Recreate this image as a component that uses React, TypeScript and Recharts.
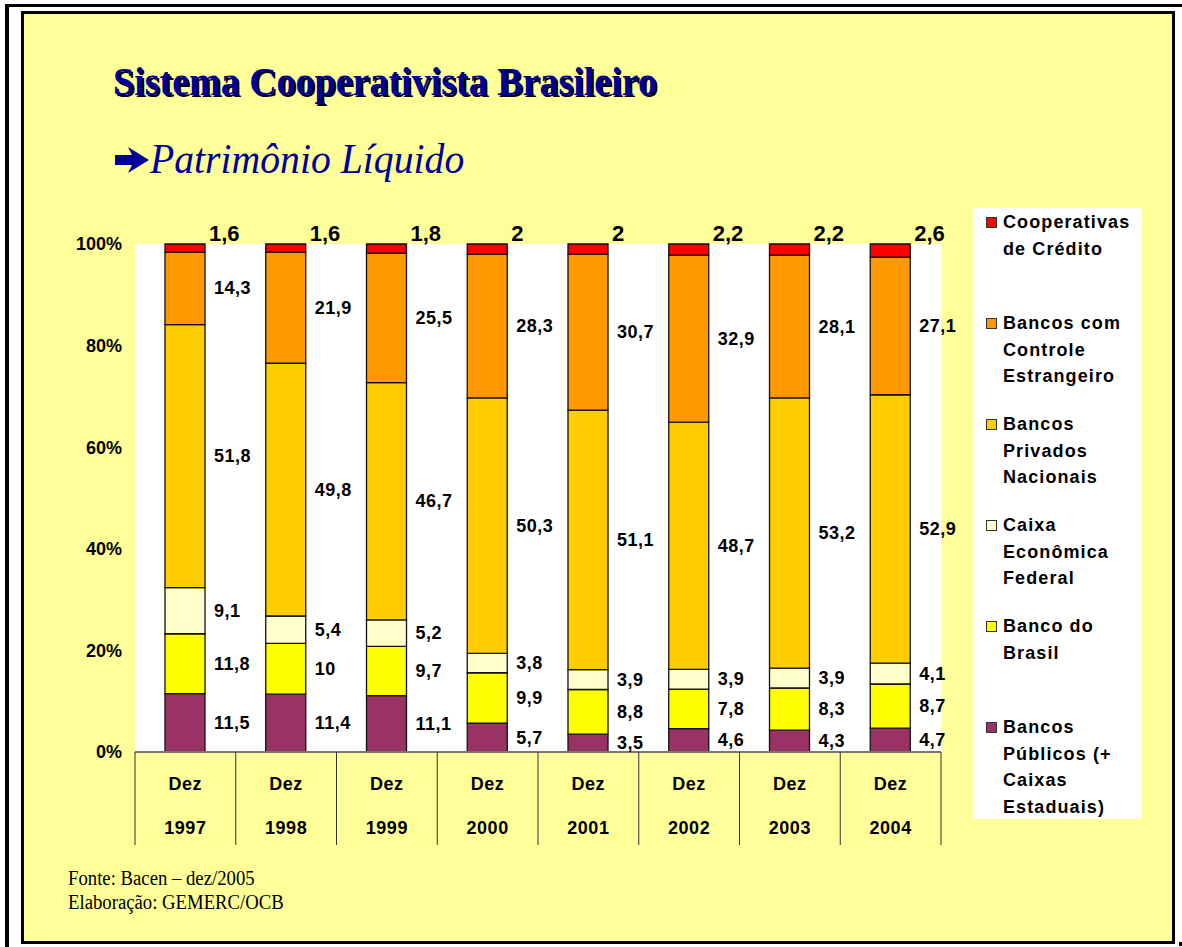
import React from 'react';
import {
  BarChart,
  Bar,
  XAxis,
  YAxis,
  CartesianGrid,
  Legend,
  LabelList
} from 'recharts';

// data (% of patrimônio líquido, Dez of each year)
const years = ['1997', '1998', '1999', '2000', '2001', '2002', '2003', '2004'];
const bancosPublicos = [11.5, 11.4, 11.1, 5.7, 3.5, 4.6, 4.3, 4.7];
const bancoDoBrasil = [11.8, 10, 9.7, 9.9, 8.8, 7.8, 8.3, 8.7];
const caixaFederal = [9.1, 5.4, 5.2, 3.8, 3.9, 3.9, 3.9, 4.1];
const privadosNacionais = [51.8, 49.8, 46.7, 50.3, 51.1, 48.7, 53.2, 52.9];
const controleEstrangeiro = [14.3, 21.9, 25.5, 28.3, 30.7, 32.9, 28.1, 27.1];
const cooperativas = [1.6, 1.6, 1.8, 2, 2, 2.2, 2.2, 2.6];

const yTicks = [0, 0.2, 0.4, 0.6, 0.8, 1];

// bottom -> top of the stack
const series = [
  { key: 'publicos', label: ['Bancos', 'Públicos (+', 'Caixas', 'Estaduais)'], color: '#993366', values: bancosPublicos },
  { key: 'bb', label: ['Banco do', 'Brasil'], color: '#FFFF00', values: bancoDoBrasil },
  { key: 'caixa', label: ['Caixa', 'Econômica', 'Federal'], color: '#FFFFCC', values: caixaFederal },
  { key: 'privados', label: ['Bancos', 'Privados', 'Nacionais'], color: '#FFCC00', values: privadosNacionais },
  { key: 'estrangeiro', label: ['Bancos com', 'Controle', 'Estrangeiro'], color: '#FF9900', values: controleEstrangeiro },
  { key: 'coop', label: ['Cooperativas', 'de Crédito'], color: '#FF0000', values: cooperativas }
];

const data = years.map((year, i) => {
  const row: Record<string, any> = { year };
  series.forEach((s) => { row[s.key] = s.values[i]; });
  return row;
});

const CHART_W = 1182;
const CHART_H = 870;
const MARGIN = { top: 244, right: 241, bottom: 25, left: 70 };
const Y_AXIS_W = 65;
const PLOT_W = CHART_W - MARGIN.left - Y_AXIS_W - MARGIN.right;
const HALF_BAND = PLOT_W / years.length / 2;

const sans = '"Liberation Sans", Arial, sans-serif';
const serif = '"Liberation Serif", "Times New Roman", serif';

const fmt = (v: number) => String(v).replace('.', ',');

const SideLabel = (props: any) => {
  const { x, y, width, height, value } = props;
  return (
    <text x={x + width + 9} y={y + height / 2} dominantBaseline="central"
      fontFamily={sans} fontWeight="bold" fontSize={18} letterSpacing={0.5} fill="#000">
      {fmt(value)}
    </text>
  );
};

const TopLabel = (props: any) => {
  const { x, y, width, value } = props;
  return (
    <text x={x + width + 4} y={y - 11} dominantBaseline="central"
      fontFamily={sans} fontWeight="bold" fontSize={22} fill="#000">
      {fmt(value)}
    </text>
  );
};

const YearTick = (props: any) => {
  const { x, y, payload, index } = props;
  return (
    <g>
      <line x1={x - HALF_BAND} x2={x - HALF_BAND} y1={y} y2={y + 93} stroke="#333" strokeWidth={1} />
      {index === years.length - 1 && (
        <line x1={x + HALF_BAND} x2={x + HALF_BAND} y1={y} y2={y + 93} stroke="#333" strokeWidth={1} />
      )}
      <text x={x} y={y + 32} textAnchor="middle" dominantBaseline="central"
        fontFamily={sans} fontWeight="bold" fontSize={18} letterSpacing={0.5} fill="#000">Dez</text>
      <text x={x} y={y + 76} textAnchor="middle" dominantBaseline="central"
        fontFamily={sans} fontWeight="bold" fontSize={18} letterSpacing={0.5} fill="#000">{payload.value}</text>
    </g>
  );
};

const SlideLegend = () => (
  <div style={{ background: '#fff', width: '100%', height: '100%', paddingTop: 1, boxSizing: 'border-box' }}>
    {[...series].reverse().map((s) => (
      <div key={s.key} style={{ position: 'relative', height: 101 }}>
        <span style={{
          position: 'absolute', left: 13, top: 8, width: 9, height: 9,
          background: s.color, border: '1px solid #333'
        }} />
        <div style={{
          position: 'absolute', left: 30, top: 0, fontFamily: sans, fontWeight: 'bold',
          fontSize: 18, lineHeight: '26.5px', letterSpacing: 1.1, color: '#000', whiteSpace: 'nowrap'
        }}>
          {s.label.map((l) => <div key={l}>{l}</div>)}
        </div>
      </div>
    ))}
  </div>
);

export default function App() {
  return (
    <div style={{ position: 'absolute', left: 0, top: 0, width: 1182, height: 947, background: '#fff', overflow: 'hidden' }}>
      {/* page frame */}
      <div style={{ position: 'absolute', left: 5, top: 4, width: 1300, height: 1000, borderTop: '3px solid #000', borderLeft: '4px solid #000' }} />
      <div style={{ position: 'absolute', left: 1179, top: 942, width: 4, height: 4, background: '#000' }} />
      <div style={{
        position: 'absolute', left: 21, top: 11, width: 1154, height: 933, boxSizing: 'border-box',
        border: '3px solid #000', background: '#FFFF99'
      }} />

      {/* title */}
      <div style={{
        position: 'absolute', left: 113, top: 62, fontFamily: serif, fontWeight: 'bold', fontSize: 40,
        lineHeight: '40px', color: '#000099', textShadow: '2px 2px 0 #000', whiteSpace: 'nowrap',
        transform: 'scaleX(0.95)', transformOrigin: 'left top'
      }}>Sistema Cooperativista Brasileiro</div>
      {/* bullet arrow */}
      <svg style={{ position: 'absolute', left: 114, top: 146 }} width={36} height={28}>
        <polygon points="1,9 18,9 14,1 35,14 14,27 18,19 1,19" fill="#000099" />
      </svg>
      <div style={{
        position: 'absolute', left: 150, top: 138, fontFamily: serif, fontStyle: 'italic', fontSize: 42,
        lineHeight: '42px', color: '#000099', whiteSpace: 'nowrap',
        transform: 'scaleX(0.945)', transformOrigin: 'left top'
      }}>Patrimônio Líquido</div>

      {/* footer */}
      <div style={{
        position: 'absolute', left: 68, top: 866, fontFamily: serif, fontSize: 20, lineHeight: '24px', color: '#000',
        transform: 'scaleX(0.936)', transformOrigin: 'left top', whiteSpace: 'nowrap'
      }}>
        <div>Fonte: Bacen – dez/2005</div>
        <div>Elaboração: GEMERC/OCB</div>
      </div>

      <div style={{ position: 'absolute', left: 0, top: 0 }}>
        <BarChart width={CHART_W} height={CHART_H} data={data} margin={MARGIN} stackOffset="expand" barSize={40}>
          <CartesianGrid fill="#fff" stroke="none" />
          <XAxis dataKey="year" tick={<YearTick />} tickLine={false} tickSize={0} tickMargin={0}
            height={93} axisLine={{ stroke: '#777', strokeWidth: 2 }} interval={0} />
          <YAxis width={Y_AXIS_W} domain={[0, 1]} ticks={yTicks} tickFormatter={(v) => `${Math.round(v * 100)}%`}
            axisLine={false} tickLine={false} tickSize={0} tickMargin={13}
            tick={{ fontFamily: sans, fontWeight: 'bold', fontSize: 18, fill: '#000' }} />
          <Legend layout="vertical" align="center" verticalAlign="middle" content={() => <SlideLegend />}
            wrapperStyle={{ left: 973, top: 208, width: 169, height: 611 }} />
          {series.map((s) => (
            <Bar key={s.key} dataKey={s.key} stackId="a" fill={s.color} stroke="#111" strokeWidth={1.3}
              isAnimationActive={false}>
              <LabelList dataKey={s.key} content={s.key === 'coop' ? <TopLabel /> : <SideLabel />} />
            </Bar>
          ))}
        </BarChart>
      </div>
    </div>
  );
}
